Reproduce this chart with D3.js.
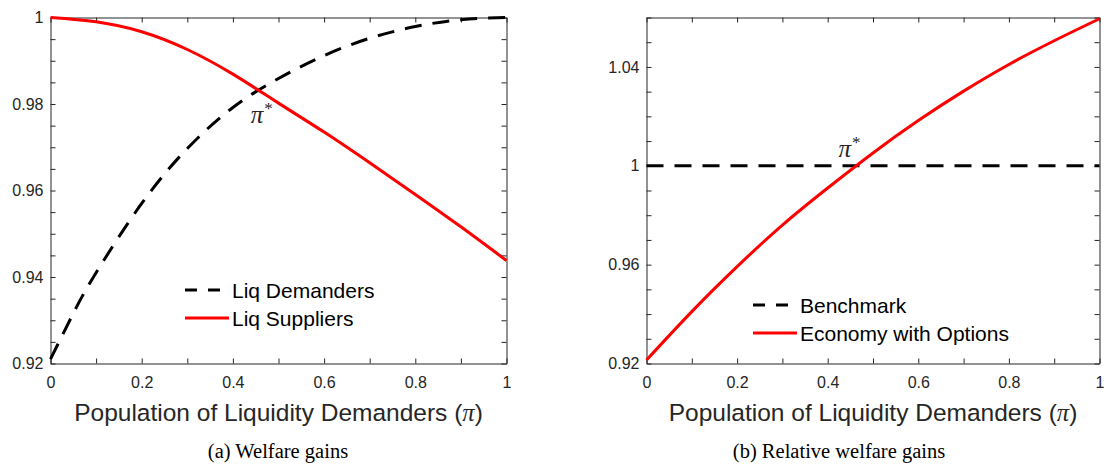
<!DOCTYPE html>
<html>
<head>
<meta charset="utf-8">
<script src="https://cdn.jsdelivr.net/npm/d3@7"></script>
<style>
    body { margin: 0; background: #fff; }
    svg { display: block; }
    .tick line, .domain { stroke: #262626; stroke-width: 1; }
</style>
</head>
<body>
<svg id="chart" width="1106" height="472"></svg>
<script>
// Panel (a): welfare gains
const xDemand = [0, 0.05, 0.1, 0.2, 0.3, 0.4, 0.5, 0.6, 0.7, 0.8, 0.9, 1.0];
const liqDemanders = [0.9210, 0.9316, 0.9410, 0.9570, 0.9697, 0.9792, 0.9859, 0.9912, 0.9952, 0.9979, 0.9995, 1.0000];
const xSupply = [0, 0.1, 0.2, 0.3, 0.4, 0.5, 0.6, 0.7, 0.8, 0.9, 1.0];
const liqSuppliers = [1.0000, 0.9990, 0.9967, 0.9926, 0.9869, 0.9802, 0.9735, 0.9664, 0.9591, 0.9516, 0.9438];

// Panel (b): relative welfare gains
const xRel = [0, 0.1, 0.2, 0.3, 0.4, 0.5, 0.6, 0.7, 0.8, 0.9, 1.0];
const benchmark = [1, 1, 1, 1, 1, 1, 1, 1, 1, 1, 1];
const economyOptions = [0.9214, 0.9410, 0.9592, 0.9760, 0.9910, 1.0052, 1.0183, 1.0302, 1.0410, 1.0506, 1.0595];

// Tick labels
const xTickLabels = [0, 0.2, 0.4, 0.6, 0.8, 1];
const yTickLabelsA = [0.92, 0.94, 0.96, 0.98, 1];
const yTickLabelsB = [0.92, 0.96, 1, 1.04];

const svg = d3.select("#chart");
const sans = "Liberation Sans, Arial, sans-serif";
const serif = "Liberation Serif, serif";

function drawPanel(opts) {
    /*
    Draws one MATLAB-style boxed panel with its lines, legend and captions.
    */

    let x = d3.scaleLinear().domain([0, 1]).range([opts.left, opts.right]);
    let y = d3.scaleLinear().domain(opts.yDomain).range([opts.bottom, opts.top]);

    let g = svg.append("g");

    let xTicks = d3.range(0, 11).map(i => i / 10);
    let yTicks = d3.range(0, Math.round((opts.yDomain[1] - opts.yDomain[0]) / opts.yStep) + 1)
        .map(i => opts.yDomain[0] + i * opts.yStep);

    function hasLabel(list, d) {
        return list.some(v => Math.abs(v - d) < 1e-9);
    }

    // Bottom axis with labels.
    g.append("g")
        .attr("transform", "translate(0," + opts.bottom + ")")
        .call(d3.axisBottom(x).tickValues(xTicks).tickSizeInner(-5).tickSizeOuter(0).tickPadding(13)
            .tickFormat(d => hasLabel(xTickLabels, d) ? String(+d.toFixed(2)) : ""));

    // Top axis, ticks only.
    g.append("g")
        .attr("transform", "translate(0," + opts.top + ")")
        .call(d3.axisTop(x).tickValues(xTicks).tickSizeInner(-5).tickSizeOuter(0).tickFormat(""));

    // Left axis with labels.
    g.append("g")
        .attr("transform", "translate(" + opts.left + ",0)")
        .call(d3.axisLeft(y).tickValues(yTicks).tickSizeInner(-5).tickSizeOuter(0).tickPadding(7)
            .tickFormat(d => hasLabel(opts.yLabels, d) ? String(+d.toFixed(2)) : ""));

    // Right axis, ticks only.
    g.append("g")
        .attr("transform", "translate(" + opts.right + ",0)")
        .call(d3.axisRight(y).tickValues(yTicks).tickSizeInner(-5).tickSizeOuter(0).tickFormat(""));

    g.selectAll(".tick text")
        .attr("font-family", sans)
        .attr("font-size", 16)
        .attr("fill", "#262626");

    let line = d3.line()
        .x(d => x(d[0]))
        .y(d => y(d[1]))
        .curve(d3.curveNatural);

    opts.series.forEach(function(s) {
        g.append("path")
            .datum(s.xs.map((v, i) => [v, s.ys[i]]))
            .attr("fill", "none")
            .attr("stroke", s.color)
            .attr("stroke-width", 3)
            .attr("stroke-dasharray", s.dashed ? "17,11" : null)
            .attr("d", line);
    });

    // Legend.
    opts.series.forEach(function(s, i) {
        let ly = opts.legendY + i * 28;
        g.append("line")
            .attr("x1", opts.legendX)
            .attr("x2", opts.legendX + (s.dashed ? 38 : 44))
            .attr("y1", ly)
            .attr("y2", ly)
            .attr("stroke", s.color)
            .attr("stroke-width", 3)
            .attr("stroke-dasharray", s.dashed ? "12,11" : null);
        g.append("text")
            .attr("x", opts.legendX + 47)
            .attr("y", ly + 8)
            .attr("font-family", sans)
            .attr("font-size", 21)
            .attr("fill", "#000")
            .text(s.name);
    });

    // pi* annotation.
    let ann = g.append("text")
        .attr("x", x(opts.piStar[0]))
        .attr("y", y(opts.piStar[1]))
        .attr("font-family", serif)
        .attr("font-size", 25)
        .attr("fill", "#262626");
    ann.append("tspan").attr("font-style", "italic").text("π");
    ann.append("tspan").attr("font-size", 17).attr("dy", -9).attr("dx", 1).text("*");

    // Axis title.
    let title = g.append("text")
        .attr("x", (opts.left + opts.right) / 2)
        .attr("y", opts.bottom + 57)
        .attr("text-anchor", "middle")
        .attr("font-family", sans)
        .attr("font-size", 24.5)
        .attr("fill", "#262626");
    title.append("tspan").text("Population of Liquidity Demanders (");
    title.append("tspan").attr("font-family", serif).attr("font-style", "italic").text("π");
    title.append("tspan").text(")");

    // Caption.
    g.append("text")
        .attr("x", opts.captionX)
        .attr("y", 458)
        .attr("text-anchor", "middle")
        .attr("font-family", serif)
        .attr("font-size", 20.5)
        .attr("fill", "#000")
        .text(opts.caption);
}

drawPanel({
    left: 50.5, right: 506.5, top: 17.5, bottom: 363.5,
    yDomain: [0.92, 1], yStep: 0.005, yLabels: yTickLabelsA,
    series: [
        { name: "Liq Demanders", xs: xDemand, ys: liqDemanders, color: "#000", dashed: true },
        { name: "Liq Suppliers", xs: xSupply, ys: liqSuppliers, color: "#ff0000", dashed: false }
    ],
    legendX: 185, legendY: 290,
    piStar: [0.439, 0.9757],
    caption: "(a) Welfare gains", captionX: 278
});

drawPanel({
    left: 646.5, right: 1099.5, top: 17.5, bottom: 363.5,
    yDomain: [0.92, 1.06], yStep: 0.01, yLabels: yTickLabelsB,
    series: [
        { name: "Benchmark", xs: xRel, ys: benchmark, color: "#000", dashed: true },
        { name: "Economy with Options", xs: xRel, ys: economyOptions, color: "#ff0000", dashed: false }
    ],
    legendX: 753, legendY: 305,
    piStar: [0.424, 1.0034],
    caption: "(b) Relative welfare gains", captionX: 839
});
</script>
</body>
</html>
